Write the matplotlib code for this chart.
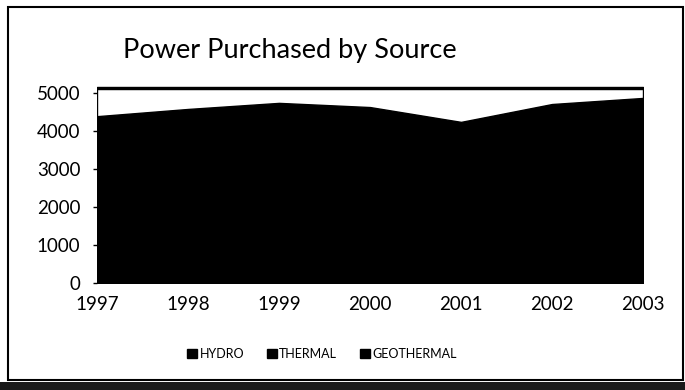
import matplotlib
matplotlib.use("Agg")
import matplotlib.pyplot as plt
from matplotlib.patches import Patch, Rectangle

# data
years = [1997, 1998, 1999, 2000, 2001, 2002, 2003]
hydro = [4390, 4580, 4740, 4630, 4240, 4710, 4870]
thermal = [720, 530, 370, 480, 870, 400, 240]
geothermal = [40, 40, 40, 40, 40, 40, 40]
series_names = ["HYDRO", "THERMAL", "GEOTHERMAL"]
yticks = [0, 1000, 2000, 3000, 4000, 5000]

plt.rcParams['font.family'] = ['Lato', 'DejaVu Sans']

fig = plt.figure(figsize=(6.85, 3.9), dpi=100)
ax = fig.add_axes([97/685, 1-283/390, 546/685, (283-85.4)/390])

ax.stackplot(years, hydro, thermal, geothermal,
             colors=["black", "white", "black"],
             edgecolor="black", linewidth=1.0)

ax.set_xlim(1997, 2003)
ax.set_ylim(0, 5200)
ax.set_yticks(yticks)
ax.set_xticks(years)
ax.tick_params(axis="y", length=3, width=1, pad=9, labelsize=13.5)
ax.tick_params(axis="x", length=0, pad=9, labelsize=13.5)
for s in ax.spines.values():
    s.set_visible(False)

fig.text(123/685, 1-58/390, "Power Purchased by Source", fontsize=19.5,
         ha="left", va="baseline")

# legend: scan shows every swatch as a black square
handles = [Patch(facecolor="black", edgecolor="black") for n in series_names]
fig.legend(handles, series_names, loc="center", bbox_to_anchor=(0.47, 1-354/390),
           ncol=3, frameon=False, fontsize=9, handlelength=0.8, handleheight=0.8,
           handletextpad=0.2, columnspacing=1.8)

# outer chart border and dark scan edge at the bottom
fig.patches.append(Rectangle((8/685, 1-380/390), 675/685, 373/390,
                             transform=fig.transFigure, fill=False,
                             edgecolor="black", linewidth=1.5))
fig.patches.append(Rectangle((0, 0), 1, 8/390, transform=fig.transFigure,
                             facecolor="#1a1a1a", edgecolor="none"))

fig.savefig("out.png", dpi=100)
